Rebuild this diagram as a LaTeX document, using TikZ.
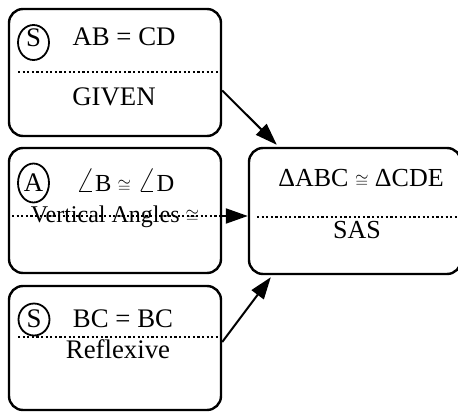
\documentclass[tikz,border=0pt]{standalone}
\usepackage{fontspec}
\setmainfont{Liberation Serif}
\usetikzlibrary{arrows.meta,shapes.geometric,calc}
\newcommand{\smcong}{{\fontsize{17}{17}\selectfont$\cong$}}
\newcommand{\bigang}{{\fontsize{48}{48}\selectfont$\angle$}}
\begin{document}
\begin{tikzpicture}[x=1pt,y=-1pt,
  box/.style={draw,line width=2.4pt,rounded corners=14pt,minimum width=212pt,inner sep=0pt},
  txt/.style={anchor=base,inner sep=0pt,font=\fontsize{26.8}{30}\selectfont},
  stxt/.style={anchor=base,inner sep=0pt,font=\fontsize{24}{28}\selectfont},
  circ/.style={draw,ellipse,line width=1.8pt,inner sep=0pt,minimum width=31pt},
  dotline/.style={line width=2.2pt,dash pattern=on 2.2pt off 2.4pt},
  arr/.style={line width=2pt,-{Triangle[length=22pt,width=15pt]}}]
\useasboundingbox (0,0) rectangle (458,412);
\clip (0,0) rectangle (458,412);
% boxes
\node[box,minimum height=127pt] (b1) at (115,72.5) {};
\node[box,minimum height=125pt] (b2) at (115,210.5) {};
\node[box,minimum height=124pt] (b3) at (115,348) {};
\node[box,minimum height=126pt] (r) at (355,211) {};
% circled letters
\node[circ,minimum height=35pt] (c1) at (33.5,42.5) {};
\node[txt] (l1) at (33.5,46.5) {S};
\node[circ,minimum height=39pt] (c2) at (33.5,183) {};
\node[txt] (l2) at (33.5,191.5) {A};
\node[circ,minimum height=32pt] (c3) at (34,319.5) {};
\node[txt] (l3) at (34,327) {S};
% texts
\node[txt] (t1) at (124,46) {AB = CD};
\node[txt] (t1b) at (114,106) {GIVEN};
\node[txt,font=\fontsize{24.5}{28}\selectfont] (t2) at (125,191.5) {\bigang B \smcong\ \bigang D};
\node[stxt] (t2b) at (115,222) {Vertical Angles \smcong};
\node[txt] (t3) at (123,327) {BC = BC};
\node[txt] (t3b) at (118,358) {Reflexive};
\node[txt,font=\fontsize{26}{30}\selectfont] (rt) at (361,186.5) {ΔABC \smcong\ ΔCDE};
\node[txt,font=\fontsize{26}{30}\selectfont] (rb) at (357,238) {SAS};
% dotted separators
\draw[dotline] (18,72) -- (218,72);
\draw[dotline] (12,216) -- (221,216);
\draw[dotline] (18,337) -- (218,337);
\draw[dotline] (257,217) -- (458,217);
% arrows
\draw[arr] ([yshift=-18pt]b1.east) -- ([xshift=29pt,yshift=2pt]r.north west);
\draw[arr] ([yshift=-5.5pt]b2.east) -- ([yshift=-5pt]r.west);
\draw[arr] ([yshift=6pt]b3.east) -- ([xshift=23pt,yshift=-2pt]r.south west);
\end{tikzpicture}
\end{document}
